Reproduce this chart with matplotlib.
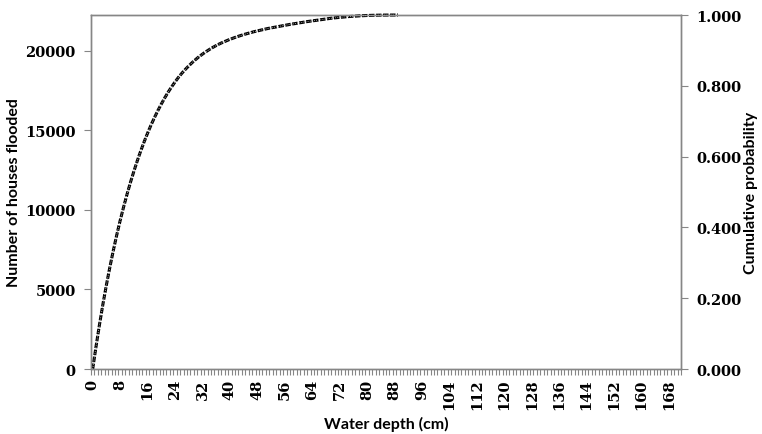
import numpy as np
import matplotlib
matplotlib.use('Agg')
import matplotlib.pyplot as plt
from matplotlib.font_manager import FontProperties
from matplotlib.ticker import FormatStrFormatter

# Data (cumulative number of flooded houses per cm of water depth)
TOTAL_HOUSES = 22260
depth_cm = list(range(0, 90))
houses = [0, 1450, 2820, 4100, 5290, 6400, 7440, 8420, 9330, 10180,
          10980, 11730, 12430, 13090, 13710, 14290, 14830, 15340, 15810, 16250,
          16660, 17050, 17410, 17740, 18050, 18340, 18600, 18840, 19060, 19270,
          19460, 19640, 19800, 19950, 20090, 20220, 20340, 20450, 20550, 20640,
          20730, 20810, 20890, 20960, 21030, 21090, 21150, 21210, 21260, 21310,
          21360, 21410, 21450, 21490, 21530, 21570, 21610, 21650, 21690, 21720,
          21760, 21790, 21830, 21860, 21890, 21920, 21950, 21980, 22010, 22040,
          22070, 22090, 22110, 22130, 22150, 22170, 22180, 22195, 22210, 22220,
          22230, 22237, 22243, 22248, 22252, 22255, 22257, 22258, 22259, 22260]
n_categories = 172  # categories 0..171 cm on the axis
label_step = 8

prob = np.array(houses) / TOTAL_HOUSES

grey = '#868686'
tick_fp = FontProperties(family='DejaVu Serif', weight='bold', size=10.5)
title_font = dict(family='Lato', weight='bold', size=11.5)

fig = plt.figure(figsize=(7.62, 4.35), dpi=100)
ax = fig.add_axes([0.1194, 0.1494, 0.7743, 0.8138])
ax2 = ax.twinx()

ax.plot(depth_cm, houses, color='black', linewidth=2.2,
        linestyle=(0, (1.8, 0.5)), zorder=3, clip_on=False)
ax2.plot(depth_cm, prob, color='#a8a8a8', linewidth=0.7,
         linestyle=(0, (1.0, 1.2)), zorder=4, clip_on=False)

ax.set_xlim(-0.5, n_categories - 0.5)
ax.set_ylim(0, TOTAL_HOUSES)
ax2.set_ylim(0, 1)

# Category-style axis: tick marks between categories, labels every 8 cm
ax.set_xticks(np.arange(0, n_categories, label_step))
ax.set_xticks(np.arange(-0.5, n_categories, 1), minor=True)
ax.tick_params(axis='x', which='major', length=0, pad=7)
ax.tick_params(axis='x', which='minor', length=4, width=0.8, color=grey)
for lab in ax.get_xticklabels():
    lab.set_rotation(90)
    lab.set_fontproperties(tick_fp)

ax.set_yticks(np.arange(0, 20001, 5000))
ax.tick_params(axis='y', length=5, width=0.8, color=grey, pad=6)
for lab in ax.get_yticklabels():
    lab.set_fontproperties(tick_fp)

ax2.set_yticks(np.arange(0, 1.01, 0.2))
ax2.yaxis.set_major_formatter(FormatStrFormatter('%.3f'))
ax2.tick_params(axis='y', length=5, width=0.8, color=grey, pad=6)
for lab in ax2.get_yticklabels():
    lab.set_fontproperties(tick_fp)

for a in (ax, ax2):
    for s in a.spines.values():
        s.set_color(grey)
        s.set_linewidth(1.0)

ax.set_xlabel('Water depth (cm)', fontdict=title_font, labelpad=5)
ax.set_ylabel('Number of houses flooded', fontdict=title_font, labelpad=3)
ax2.set_ylabel('Cumulative probability', fontdict=title_font, labelpad=2)

fig.savefig('out.png', dpi=100)
